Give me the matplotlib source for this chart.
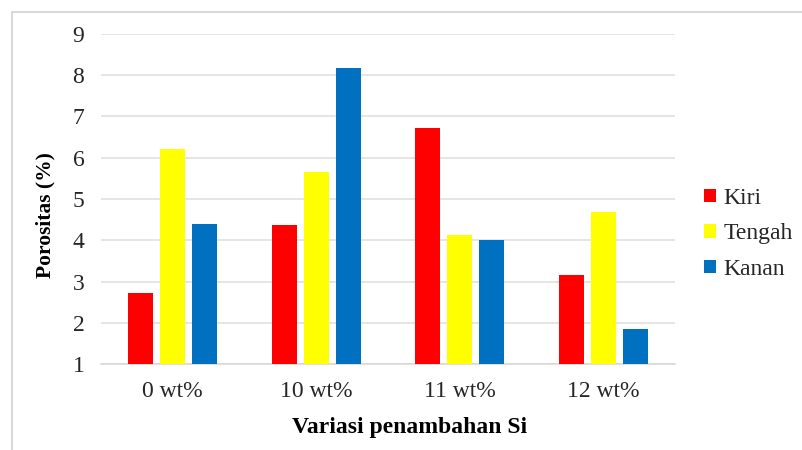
import matplotlib
matplotlib.use("Agg")
import matplotlib.pyplot as plt
import numpy as np
from matplotlib.patches import Rectangle

categories = ["0 wt%", "10 wt%", "11 wt%", "12 wt%"]
series_names = ["Kiri", "Tengah", "Kanan"]
kiri = [2.72, 4.38, 6.71, 3.17]
tengah = [6.21, 5.65, 4.13, 4.68]
kanan = [4.40, 8.16, 4.01, 1.85]
colors = ["#FF0000", "#FFFF00", "#0070C0"]
y_ticks = [1, 2, 3, 4, 5, 6, 7, 8, 9]

plt.rcParams['font.family'] = ['Liberation Serif', 'DejaVu Serif']

fig = plt.figure(figsize=(8.02, 4.5), dpi=100)
W, H = 802, 450
ax = fig.add_axes([101 / W, 1 - 364.3 / H, (675 - 101) / W, (364.3 - 33.5) / H])

# outer border
fig.patches.append(Rectangle((12 / W, -0.1), 1.2, 1 - 12 / H + 0.1, transform=fig.transFigure,
                             fill=False, edgecolor="#D9D9D9", linewidth=1.5, zorder=0))

x = np.arange(len(categories))
bw = 0.175
step = 0.224
for i, (vals, c) in enumerate(zip([kiri, tengah, kanan], colors)):
    ax.bar(x + (i - 1) * step, np.array(vals) - 1, bottom=1, width=bw, color=c,
           label=series_names[i], zorder=3)

ax.set_xlim(-0.5, len(categories) - 0.5)
ax.set_ylim(1, 9)
ax.set_yticks(y_ticks)
ax.set_xticks(x)
ax.set_xticklabels(categories)
ax.yaxis.grid(True, color="#E0E0E0", linewidth=1.2, zorder=0)
ax.set_axisbelow(True)
for s in ["left", "right", "top"]:
    ax.spines[s].set_visible(False)
ax.spines["bottom"].set_color("#D9D9D9")
ax.spines["bottom"].set_linewidth(1.2)
ax.tick_params(axis="both", length=0, labelsize=17, colors="#262626")
ax.tick_params(axis="y", pad=12)
ax.tick_params(axis="x", pad=12)

fig.text(45 / W, 1 - 215 / H, "Porositas (%)", rotation=90, ha="center", va="center",
         fontsize=15.5, fontweight="bold")
fig.text(410 / W, 1 - 427 / H, "Variasi penambahan Si", ha="center", va="center",
         fontsize=17, fontweight="bold")

leg = fig.legend(loc="center left", bbox_to_anchor=(695 / W, 1 - 234 / H), frameon=False,
                 fontsize=17, handlelength=0.5, handleheight=0.5, handletextpad=0.3,
                 labelspacing=0.62, borderaxespad=0)
for t in leg.get_texts():
    t.set_color("#262626")

fig.savefig("out.png", dpi=100)
